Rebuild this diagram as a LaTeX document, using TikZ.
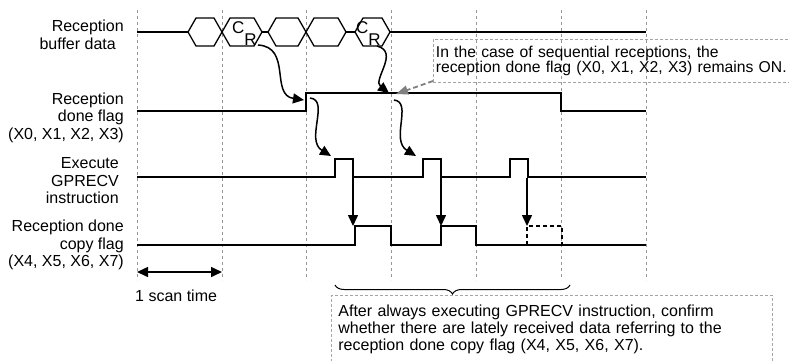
\documentclass[tikz,border=0pt]{standalone}
\usepackage{fontspec}
\setmainfont{Liberation Sans}
\usetikzlibrary{arrows.meta,decorations.pathreplacing}
\definecolor{gridgray}{RGB}{150,150,150}
\definecolor{boxgray}{RGB}{165,165,165}
\definecolor{notegray}{RGB}{128,128,128}
\tikzset{
  gridline/.style={gridgray, line width=0.7pt, dash pattern=on 3pt off 3pt},
  signal/.style={line width=1.3pt},
  sigtext/.style={align=right, anchor=east, inner sep=0pt, font=\fontsize{16}{17.5}\selectfont},
  crtext/.style={anchor=base west, inner sep=0pt, font=\fontsize{17}{17}\selectfont},
  notebox/.style={draw=boxgray, line width=0.8pt, dash pattern=on 3pt off 2pt, anchor=north west, align=left},
  curvearrow/.style={line width=1.5pt, ->},
}
\begin{document}
\begin{tikzpicture}[x=1pt, y=-1pt, >={Triangle[length=11pt,width=10pt]}]
    \useasboundingbox (0,0) rectangle (789,360);
    % scan time grid
    \foreach \x in {137,222,306,391,476,561,646}
        \draw[gridline] (\x,10) -- (\x,280);
    % signal names
    \node[sigtext] (buf) at (124,35) {Reception\\buffer data\kern8pt};
    \node[sigtext] (flag) at (124,117.5) {Reception\\done flag\\(X0, X1, X2, X3)};
    \node[sigtext] (exec) at (119,181) {Execute\\GPRECV\\instruction};
    \node[sigtext] (copy) at (124,245) {Reception done\\copy flag\\(X4, X5, X6, X7)};
    % reception buffer data
    \foreach \a/\b in {188/222, 222/262, 268/306, 306/346, 355/390}
        \draw[signal] (\a,32) -- (\a+8,18) -- (\b-8,18) -- (\b,32) -- (\b-8,46) -- (\a+8,46) -- cycle;
    \draw[signal] (137,32) -- (188,32) (262,32) -- (268,32) (346,32) -- (355,32) (390,32) -- (646,32);
    \node[crtext] (cra) at (232,33) {C\raisebox{-12pt}{R}};
    \node[crtext] (crb) at (356,33) {C\raisebox{-12pt}{R}};
    % reception done flag
    \draw[signal] (137,111) -- (306,111) -- (306,93) -- (561,93) -- (561,111) -- (646,111);
    % GPRECV execution
    \draw[signal] (137,177) foreach \a/\b in {335/353, 423/441, 510/528}
        { -- (\a,177) -- (\a,159) -- (\b,159) -- (\b,177) } -- (646,177);
    % reception done copy flag
    \draw[signal] (137,245) -- (355,245) -- (355,226) -- (391,226) -- (391,245)
        -- (441,245) -- (441,226) -- (476,226) -- (476,245) -- (646,245);
    \draw[signal, dash pattern=on 4pt off 3pt] (527,245) -- (527,226) -- (562,226) -- (562,245);
    % points for the arrows
    \coordinate (da) at (258,45);   \coordinate (fa) at (304,100);
    \coordinate (db) at (377,46);   \coordinate (fb) at (389,93);
    \coordinate (ra) at (310,98);   \coordinate (ga) at (331,156);
    \coordinate (rb) at (394,100);  \coordinate (gb) at (416,156);
    \coordinate (ea) at (353,178);  \coordinate (ca) at (353,226);
    \coordinate (eb) at (441,178);  \coordinate (cb) at (441,226);
    \coordinate (ec) at (527,178);  \coordinate (cc) at (527,226);
    % data -> flag -> instruction
    \draw[curvearrow] (da) .. controls (292,47) and (270,95) .. (fa);
    \draw[curvearrow] (db) .. controls (400,52) and (372,80) .. (fb);
    \draw[curvearrow] (ra) .. controls (330,100) and (305,140) .. (ga);
    \draw[curvearrow] (rb) .. controls (413,102) and (390,140) .. (gb);
    % instruction -> copy flag
    \draw[curvearrow] (ea) -- (ca);
    \draw[curvearrow] (eb) -- (cb);
    \draw[curvearrow] (ec) -- (cc);
    % 1 scan time
    \coordinate (sa) at (137,272);  \coordinate (sb) at (222,272);
    \draw[line width=1.5pt, <->] (sa) -- (sb);
    \node[anchor=west, inner sep=0pt, font=\fontsize{16}{17}\selectfont] (scan) at (135,296) {1 scan time};
    % notes
    \node[notebox, text width=366pt, minimum height=43pt, inner xsep=2.5pt, font=\fontsize{15.7}{15}\selectfont]
        (notea) at (433,39) {In the case of sequential receptions, the\\reception done flag (X0, X1, X2, X3) remains ON.};
    \coordinate (na) at (433,81);  \coordinate (nb) at (396,94);
    \draw[notegray, line width=1.8pt, dash pattern=on 5pt off 3pt, -{Triangle[length=12pt,width=9pt]}] (na) -- (nb);
    \draw[line width=1pt, decorate, decoration={brace, amplitude=9pt}] (570,285) -- (335,285);
    \node[notebox, text width=427pt, inner xsep=7pt, inner ysep=9pt, text depth=60pt, font=\fontsize{16}{17}\selectfont]
        (noteb) at (331,295) {After always executing GPRECV instruction, confirm\\whether there are lately received data referring to the\\reception done copy flag (X4, X5, X6, X7).};
\end{tikzpicture}
\end{document}
